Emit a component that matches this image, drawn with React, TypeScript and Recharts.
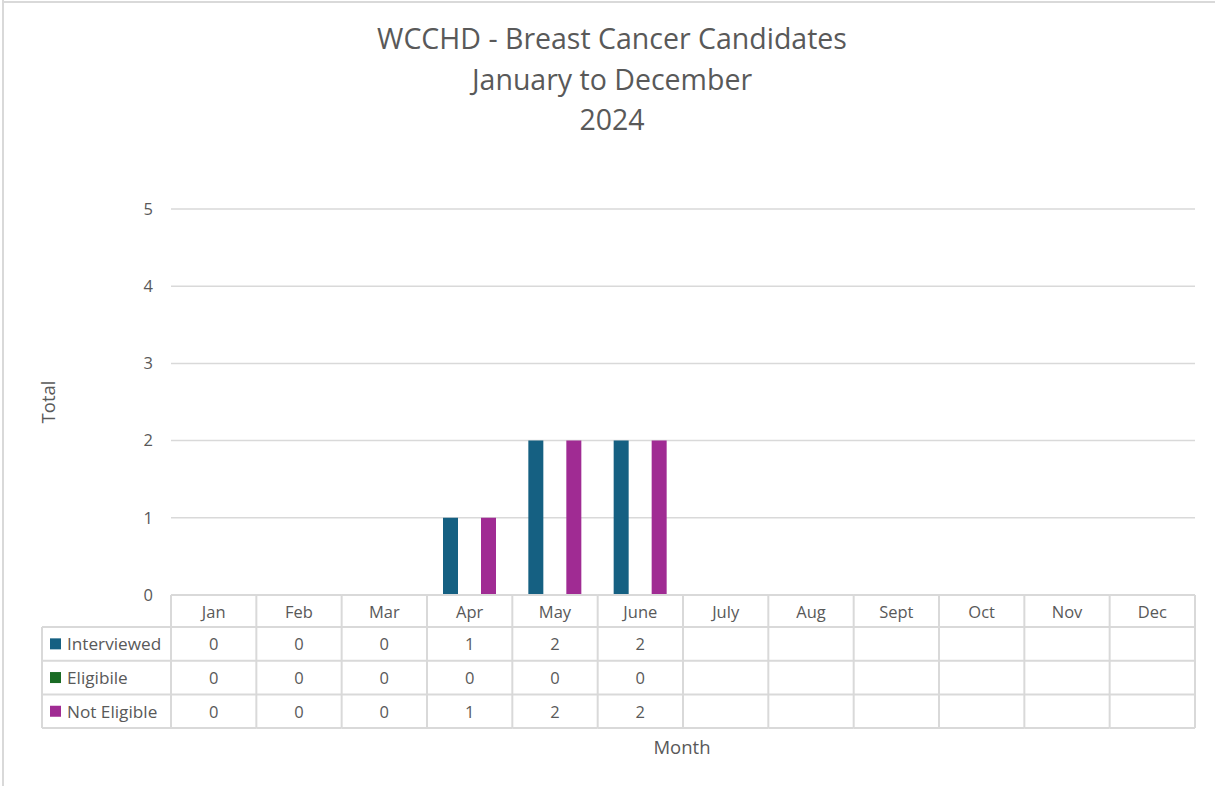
import { BarChart, Bar, XAxis, YAxis, CartesianGrid, Customized } from "recharts";

const months = ["Jan", "Feb", "Mar", "Apr", "May", "June", "July", "Aug", "Sept", "Oct", "Nov", "Dec"];
const interviewed: (number | null)[] = [0, 0, 0, 1, 2, 2, null, null, null, null, null, null];
const eligible: (number | null)[] = [0, 0, 0, 0, 0, 0, null, null, null, null, null, null];
const notEligible: (number | null)[] = [0, 0, 0, 1, 2, 2, null, null, null, null, null, null];
const yTicks = [0, 1, 2, 3, 4, 5];
const titleLines = ["WCCHD - Breast Cancer Candidates", "January to December", "2024"];

const SERIES = [
  { key: "interviewed", name: "Interviewed", color: "#156082", values: interviewed },
  { key: "eligible", name: "Eligibile", color: "#196B24", values: eligible },
  { key: "notEligible", name: "Not Eligible", color: "#A02B93", values: notEligible },
];

const data = months.map((m, i) => ({
  month: m,
  interviewed: interviewed[i],
  eligible: eligible[i],
  notEligible: notEligible[i],
}));

const FONT = "'Open Sans', sans-serif";
const TEXT = "#595959";
const LINE = "#D9D9D9";
const HEAD_H = 32;
const ROW_H = 33.7;
const LEGEND_LEFT = 42;
const TW = 2;

function TableTick(props: any) {
  const { x, y, payload, index } = props;
  const half = payload?.offset || 1024 / 24;
  const left = x - half;
  const right = x + half;
  const bottom = y + HEAD_H + ROW_H * SERIES.length;
  const isLast = index === months.length - 1;

  return (
    <g>
      <line x1={left} x2={left} y1={y} y2={bottom} stroke={LINE} strokeWidth={TW} />
      {isLast && <line x1={right} x2={right} y1={y} y2={bottom} stroke={LINE} strokeWidth={TW} />}
      <line x1={left} x2={right} y1={y} y2={y} stroke={LINE} strokeWidth={TW} />
      {SERIES.map((s, r) => (
        <line
          key={s.key}
          x1={left}
          x2={right}
          y1={y + HEAD_H + ROW_H * (r + 1)}
          y2={y + HEAD_H + ROW_H * (r + 1)}
          stroke={LINE}
          strokeWidth={TW}
        />
      ))}
      <line x1={left} x2={right} y1={y + HEAD_H} y2={y + HEAD_H} stroke={LINE} strokeWidth={TW} />
      <text x={x} y={y + HEAD_H / 2} textAnchor="middle" dominantBaseline="central" fill={TEXT} fontSize={16.5} fontFamily={FONT}>
        {payload.value}
      </text>
      {SERIES.map((s, r) => {
        const v = s.values[index];
        if (v == null) return null;
        return (
          <text
            key={s.key}
            x={x}
            y={y + HEAD_H + ROW_H * r + ROW_H / 2}
            textAnchor="middle"
            dominantBaseline="central"
            fill={TEXT}
            fontSize={16.5}
            fontFamily={FONT}
          >
            {v}
          </text>
        );
      })}
      {index === 0 && (
        <g>
          <line x1={LEGEND_LEFT} x2={LEGEND_LEFT} y1={y + HEAD_H} y2={bottom} stroke={LINE} strokeWidth={TW} />
          {SERIES.map((s, r) => {
            const rowTop = y + HEAD_H + ROW_H * r;
            const cy = rowTop + ROW_H / 2;
            return (
              <g key={s.key}>
                <line x1={LEGEND_LEFT} x2={left} y1={rowTop} y2={rowTop} stroke={LINE} strokeWidth={TW} />
                <rect x={LEGEND_LEFT + 8} y={cy - 5.5} width={11} height={11} fill={s.color} />
                <text x={LEGEND_LEFT + 25} y={cy} dominantBaseline="central" fill={TEXT} fontSize={17.2} fontFamily={FONT}>
                  {s.name}
                </text>
              </g>
            );
          })}
          <line x1={LEGEND_LEFT} x2={left} y1={bottom} y2={bottom} stroke={LINE} strokeWidth={TW} />
        </g>
      )}
    </g>
  );
}

function AxisTitles(props: any) {
  const off = props.offset || { left: 171, top: 209, width: 1024, height: 386 };
  const cx = off.left + off.width / 2;
  const cy = off.top + off.height / 2;
  return (
    <g fontFamily={FONT} fill={TEXT} fontSize={18.5}>
      <text x={47} y={cy} textAnchor="middle" dominantBaseline="central" transform={`rotate(-90 47 ${cy})`}>
        Total
      </text>
      <text x={cx - 1} y={746} textAnchor="middle" dominantBaseline="central">
        Month
      </text>
    </g>
  );
}

export default function App() {
  return (
    <div style={{ position: "absolute", left: 0, top: 0, width: 1215, height: 786, background: "#fff", fontFamily: FONT }}>
      <div style={{ position: "absolute", left: 2, top: 0, width: 2, height: 786, background: LINE }} />
      <div style={{ position: "absolute", left: 2, top: 1, width: 1213, height: 2, background: LINE }} />
      <div style={{ position: "absolute", left: 0, top: 18, width: 1224, textAlign: "center", color: TEXT, fontSize: 28.5, lineHeight: "40.5px" }}>
        {titleLines.map((t) => (
          <div key={t}>{t}</div>
        ))}
      </div>
      <div style={{ position: "absolute", left: 0, top: 0 }}>
        <BarChart
          width={1215}
          height={786}
          data={data}
          margin={{ top: 209, right: 20, left: 111, bottom: 56 }}
          barSize={15}
          barGap={4}
        >
          <CartesianGrid vertical={false} stroke={LINE} strokeWidth={1.5} />
          <XAxis
            dataKey="month"
            axisLine={false}
            tickLine={false}
            tickSize={0}
            tickMargin={0}
            height={135}
            interval={0}
            tick={<TableTick />}
          />
          <YAxis
            domain={[0, 5]}
            ticks={yTicks}
            width={60}
            axisLine={false}
            tickLine={false}
            tickSize={0}
            tickMargin={18}
            tick={{ fill: TEXT, fontSize: 16.5, fontFamily: FONT }}
          />
          {SERIES.map((s) => (
            <Bar key={s.key} dataKey={s.key} name={s.name} fill={s.color} isAnimationActive={false} />
          ))}
          <Customized component={AxisTitles} />
        </BarChart>
      </div>
    </div>
  );
}
